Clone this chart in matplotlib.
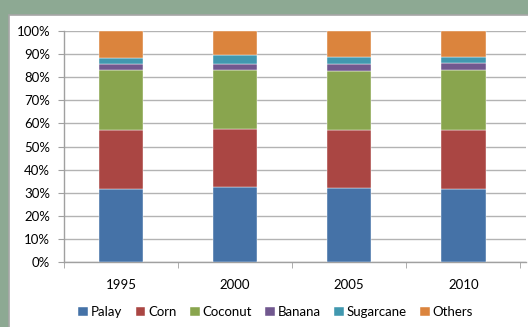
#!/usr/bin/env python3
import matplotlib
matplotlib.use('Agg')
import matplotlib.pyplot as plt
from matplotlib.patches import Rectangle
import numpy as np

years = ['1995', '2000', '2005', '2010']
crops = ['Palay', 'Corn', 'Coconut', 'Banana', 'Sugarcane', 'Others']

# share of each crop per year, in percent
palay = [31.5, 32.6, 32.2, 31.5]
corn = [25.5, 25.0, 24.9, 25.6]
coconut = [26.1, 25.5, 25.6, 26.0]
banana = [2.7, 2.7, 3.1, 3.2]
sugarcane = [2.5, 3.7, 3.1, 2.6]
others = [11.7, 10.5, 11.1, 11.1]

colors = ['#4572A7', '#AA4643', '#89A54E', '#71588F', '#4198AF', '#DB843D']


def main():
    plt.rcParams['font.family'] = ['Lato', 'DejaVu Sans']
    fig = plt.figure(figsize=(5.28, 3.27), dpi=100, facecolor='#8DA993')

    # white chart area with grey frame
    fig.patches.append(Rectangle((9 / 528, -0.05), 1.0, 1 - 15 / 327 + 0.05,
                                 transform=fig.transFigure, facecolor='white',
                                 edgecolor='#a6a6a6', lw=1.2, zorder=-1))

    ax = fig.add_axes([64 / 528, 1 - 262 / 327, 462 / 528, 231 / 327])
    ax.set_zorder(2)
    ax.patch.set_alpha(0)

    series = [palay, corn, coconut, banana, sugarcane, others]
    x = np.arange(len(years))
    bottom = np.zeros(len(years))
    for name, vals, c in zip(crops, series, colors):
        vals = np.array(vals)
        ax.bar(x, vals, width=0.39, bottom=bottom, color=c, label=name,
               edgecolor='white', linewidth=0.3, zorder=3)
        bottom += vals

    ax.set_xlim(-0.5, 3.55)
    ax.set_ylim(0, 100)
    ax.set_yticks(np.arange(0, 101, 10))
    ax.set_yticklabels(['%d%%' % v for v in range(0, 101, 10)])
    ax.yaxis.grid(True, color='#b3b3b3', lw=1.0, zorder=0)
    ax.set_axisbelow(True)

    ax.set_xticks(x)
    ax.set_xticklabels(years)
    ax.set_xticks(np.arange(-0.5, 4, 1.0), minor=True)
    ax.tick_params(axis='x', which='major', length=0, pad=12, labelsize=9.5)
    ax.tick_params(axis='x', which='minor', length=4, color='#a0a0a0')
    ax.tick_params(axis='y', length=4, color='#a0a0a0', pad=6, labelsize=9.5)

    for side in ['top', 'right']:
        ax.spines[side].set_visible(False)
    for side in ['left', 'bottom']:
        ax.spines[side].set_color('#a0a0a0')
        ax.spines[side].set_linewidth(1.0)

    fig.legend(loc='center', bbox_to_anchor=(275.5 / 528, 1 - 312 / 327), ncol=6,
               frameon=False, fontsize=9.5, handlelength=0.75, handleheight=0.75,
               handletextpad=0.2, columnspacing=1.0)

    fig.savefig('out.png', dpi=100, facecolor=fig.get_facecolor())


if __name__ == '__main__':
    main()
